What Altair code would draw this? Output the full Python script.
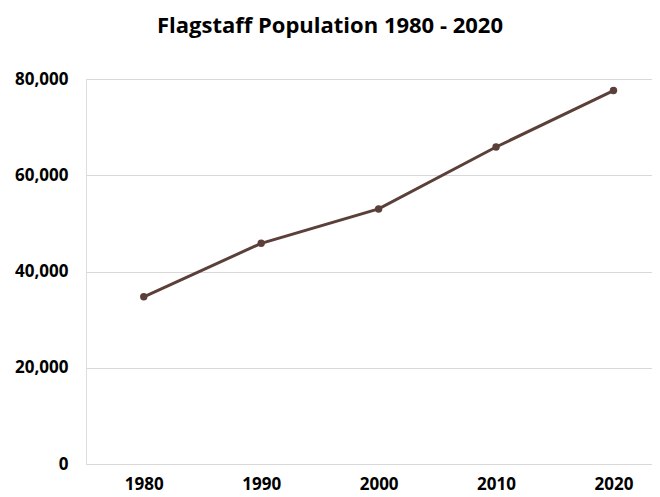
import altair as alt
import pandas as pd

years = ["1980", "1990", "2000", "2010", "2020"]
population = [34743, 45857, 53000, 65870, 77600]

df = pd.DataFrame({"year": years, "population": population})

FONT = "Open Sans"
COLOR = "#5b4039"

base = alt.Chart(df).encode(
    x=alt.X(
        "year:O",
        sort=years,
        scale=alt.Scale(type="point", padding=0.41, align=0.6),
        axis=alt.Axis(
            title=None, labelAngle=0, ticks=False, domain=False, grid=False,
            labelFont=FONT, labelFontSize=17, labelFontWeight="bold",
            labelColor="#000000", labelPadding=12,
        ),
    ),
    y=alt.Y(
        "population:Q",
        scale=alt.Scale(domain=[0, 80000], nice=False),
        axis=alt.Axis(
            title=None, values=[0, 20000, 40000, 60000, 80000], format=",d",
            ticks=False, domain=False, grid=True, gridColor="#d9d9d9", gridWidth=1,
            labelFont=FONT, labelFontSize=17, labelFontWeight="bold",
            labelColor="#000000", labelPadding=18,
        ),
    ),
)

line = base.mark_line(color=COLOR, strokeWidth=3)
pts = base.mark_circle(color=COLOR, size=55, opacity=1)

chart = (
    alt.layer(line, pts)
    .properties(
        width=566,
        height=385,
        autosize=alt.AutoSizeParams(type="none"),
        padding={"left": 78, "top": 71, "right": 0, "bottom": 31},
        title=alt.TitleParams(
            "Flagstaff Population 1980 - 2020",
            font=FONT, fontSize=22, fontWeight="bold", color="#000000",
            anchor="middle", dx=-39, offset=32,
        ),
    )
    .configure_view(stroke=None)
    .configure(background="white")
)

chart.save("out.html", embed_options={"renderer": "svg", "actions": False})
